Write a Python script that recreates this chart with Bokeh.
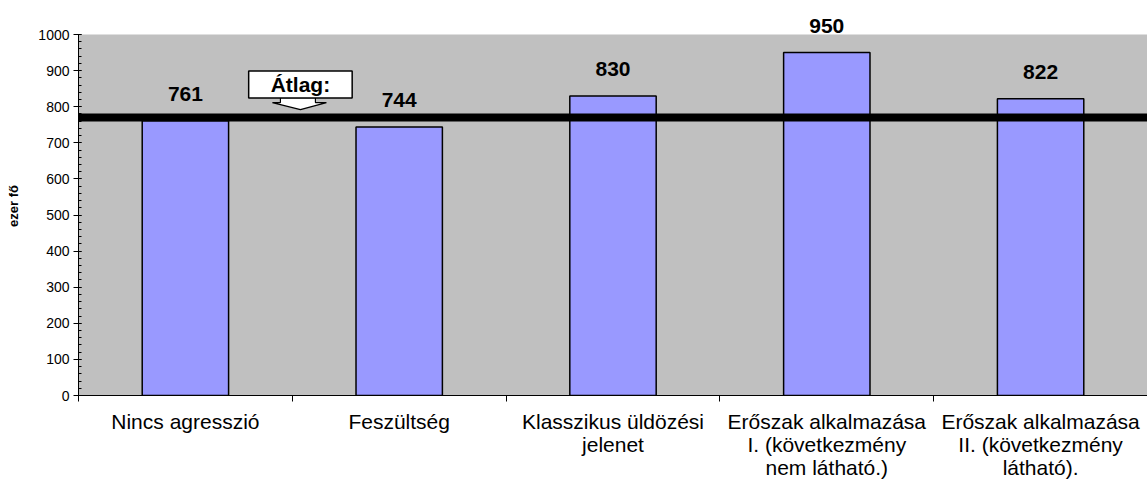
from bokeh.plotting import figure
from bokeh.models import (ColumnDataSource, LabelSet, Label, Span, FixedTicker,
                          Range1d, BoxAnnotation)
from bokeh.core.properties import value
from bokeh.embed import file_html
from bokeh.resources import INLINE

# ---- data ----
categories = [
    "Nincs agresszió",
    "Feszültség",
    "Klasszikus üldözési\njelenet",
    "Erőszak alkalmazása\nI. (következmény\nnem látható.)",
    "Erőszak alkalmazása\nII. (következmény\nlátható).",
]
values = [761, 744, 830, 950, 822]
average = 770
average_label = "Átlag:"
y_label = "ezer fő"
y_ticks = list(range(0, 1001, 100))
y_minor = list(range(0, 1001, 20))
y_max = 1000

FONT = "Liberation Sans"

xs = [i + 0.5 for i in range(len(categories))]
src = ColumnDataSource(dict(x=xs, top=values, txt=[str(v) for v in values]))

p = figure(width=1147, height=496, output_backend="svg", toolbar_location=None,
           x_range=Range1d(0, len(categories)), y_range=Range1d(0, 1050),
           min_border_left=78, min_border_right=0, min_border_top=16,
           min_border_bottom=101)
p.background_fill_color = "white"
p.border_fill_color = "white"
p.outline_line_color = None
p.grid.visible = False

# grey plot area up to the axis maximum
p.add_layout(BoxAnnotation(bottom=0, top=y_max, fill_color="#C0C0C0",
                           fill_alpha=1.0, line_color=None, level="underlay"))

# bars
p.vbar(x="x", top="top", width=0.404, bottom=0, source=src,
       fill_color="#9999FF", line_color="black", line_width=1.5)

# average line
p.add_layout(Span(location=average, dimension="width", line_color="black",
                  line_width=8))

# value labels
labels = LabelSet(x="x", y="top", text="txt", source=src, y_offset=27,
                  text_align="center", text_baseline="middle",
                  text_font=value(FONT), text_font_style="bold",
                  text_font_size="21px", text_color="black")
p.add_layout(labels)

# average callout arrow (relative to the callout anchor)
ax = 1.038
px2x = 1.0 / 213.8
px2y = 1000.0 / 361.0
adx = [-20, -20, -28, 0, 26, 15, 15]
ady = [20, 15, 15, 8, 15, 15, 20]
p.patch([ax + d * px2x for d in adx], [average + d * px2y for d in ady],
        fill_color="white", line_color="black", line_width=1.2)

p.add_layout(Label(x=ax, y=average, y_offset=33, text=average_label,
                   text_align="center", text_baseline="middle",
                   text_font=FONT, text_font_style="bold", text_font_size="21px",
                   text_color="black",
                   background_fill_color="white", border_line_color="black",
                   border_line_width=1.5, padding=(22, 2)))

# y axis
ya = p.yaxis[0]
ya.bounds = (0, y_max)
ya.ticker = FixedTicker(ticks=y_ticks, minor_ticks=y_minor)
ya.axis_label = y_label
ya.axis_label_text_font = FONT
ya.axis_label_text_font_style = "bold"
ya.axis_label_text_font_size = "13px"
ya.axis_label_text_color = "black"
ya.axis_label_standoff = 14
ya.major_label_text_font = FONT
ya.major_label_text_font_size = "14px"
ya.major_label_text_color = "black"
ya.major_label_standoff = 4
ya.axis_line_color = "black"
ya.major_tick_line_color = "black"
ya.minor_tick_line_color = "black"
ya.major_tick_out = 5
ya.major_tick_in = 3
ya.minor_tick_out = 0
ya.minor_tick_in = 3

# x axis
xa = p.xaxis[0]
xa.ticker = FixedTicker(ticks=xs, minor_ticks=list(range(len(categories) + 1)))
xa.major_label_overrides = {x: c for x, c in zip(xs, categories)}
xa.major_label_text_font = FONT
xa.major_label_text_font_size = "21px"
xa.major_label_text_line_height = 1.0
xa.major_label_text_color = "black"
xa.major_label_standoff = 8
xa.major_tick_line_color = None
xa.major_tick_out = 0
xa.major_tick_in = 0
xa.minor_tick_line_color = "black"
xa.minor_tick_out = 6
xa.minor_tick_in = 0
xa.axis_line_color = "black"

open("out.html", "w").write(file_html(p, INLINE))
